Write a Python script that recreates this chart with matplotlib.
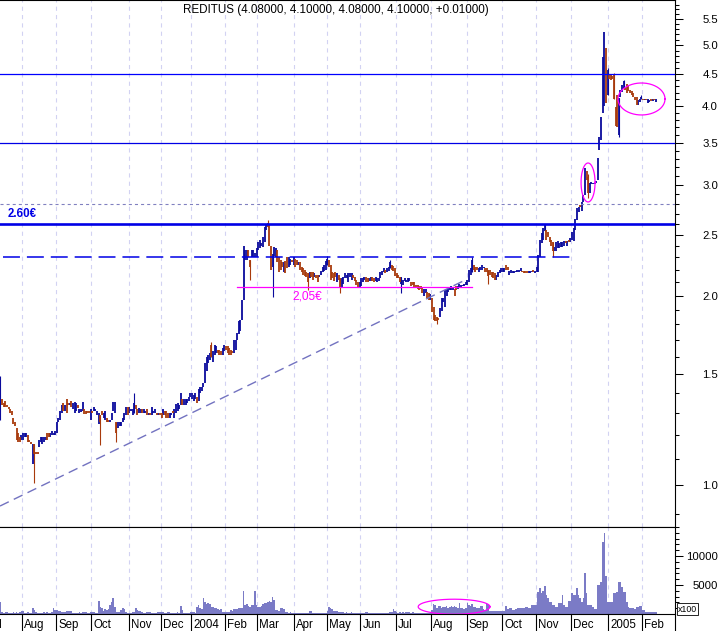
import numpy as np
import pandas as pd
import matplotlib
matplotlib.use("Agg")
import matplotlib.pyplot as plt
from matplotlib.transforms import blended_transform_factory
from matplotlib.ticker import FixedLocator, NullFormatter, FuncFormatter

plt.rcParams['font.family'] = ['Liberation Sans', 'DejaVu Sans']
plt.rcParams['lines.scale_dashes'] = False

# ---------------- data ----------------
title_text = "REDITUS (4.08000, 4.10000, 4.08000, 4.10000, +0.01000)"
start_date = '2003-07-14'
end_date = '2005-02-11'
holidays = ['2003-12-24', '2003-12-25', '2003-12-26', '2003-12-31',
            '2004-01-01', '2004-04-09', '2004-04-12']

opens = [
    # Jul 2003
    1.29, 1.37, 1.35, 1.36, 1.34, 1.33, 1.32, 1.31, 1.28, 1.26, 1.23, 1.21, 1.19, 1.18,
    # Aug 2003
    1.18, 1.19, 1.19, 1.20, 1.18, 1.17, 1.08, 1.16, 1.13, 1.13, 1.15, 1.17, 1.16, 1.17, 1.18, 1.21, 1.21, 1.19, 1.20, 1.20, 1.20,
    # Sep 2003
    1.21, 1.26, 1.27, 1.30, 1.35, 1.31, 1.37, 1.35, 1.34, 1.36, 1.32, 1.30, 1.31, 1.34, 1.30, 1.305, 1.31, 1.32, 1.31, 1.31, 1.31, 1.27,
    # Oct 2003
    1.31, 1.31, 1.31, 1.29, 1.25, 1.29, 1.31, 1.28, 1.27, 1.28, 1.27, 1.26, 1.27, 1.31, 1.30, 1.26, 1.23, 1.24, 1.24, 1.26, 1.27, 1.29, 1.33,
    # Nov 2003
    1.30, 1.31, 1.29, 1.30, 1.34, 1.32, 1.30, 1.30, 1.32, 1.30, 1.30, 1.32, 1.29, 1.30, 1.29, 1.30, 1.30, 1.30, 1.29, 1.30,
    # Dec 2003
    1.30, 1.29, 1.31, 1.31, 1.30, 1.28, 1.29, 1.31, 1.28, 1.30, 1.31, 1.32, 1.34, 1.37, 1.34, 1.34, 1.35, 1.36, 1.38,
    # Jan 2004
    1.37, 1.36, 1.37, 1.38, 1.36, 1.40, 1.41, 1.43, 1.45, 1.52, 1.56, 1.58, 1.67, 1.57, 1.61, 1.62, 1.64, 1.64, 1.63, 1.61, 1.63,
    # Feb 2004
    1.66, 1.66, 1.65, 1.64, 1.63, 1.62, 1.64, 1.70, 1.74, 1.76, 1.83, 1.97, 2.28, 2.28, 2.36, 2.28, 2.30, 2.30, 2.30, 2.30,
    # Mar 2004
    2.36, 2.38, 2.40, 2.39, 2.43, 2.54, 2.61, 2.59, 2.40, 2.22, 2.31, 2.30, 2.36, 2.30, 2.28, 2.26, 2.18, 2.27, 2.30, 2.22, 2.24, 2.28, 2.24,
    # Apr 2004
    2.29, 2.28, 2.24, 2.26, 2.22, 2.21, 2.20, 2.18, 2.17, 2.13, 2.18, 2.18, 2.14, 2.16, 2.16, 2.14, 2.16, 2.18, 2.19, 2.20,
    # May 2004
    2.24, 2.28, 2.24, 2.18, 2.17, 2.18, 2.10, 2.16, 2.13, 2.06, 2.09, 2.13, 2.13, 2.10, 2.14, 2.12, 2.16, 2.14, 2.12, 2.10, 2.06,
    # Jun 2004
    2.07, 2.10, 2.12, 2.14, 2.13, 2.11, 2.11, 2.14, 2.13, 2.11, 2.10, 2.11, 2.13, 2.16, 2.18, 2.20, 2.18, 2.19, 2.21, 2.24, 2.23, 2.21,
    # Jul 2004
    2.17, 2.16, 2.14, 2.09, 2.08, 2.11, 2.10, 2.10, 2.11, 2.10, 2.10, 2.10, 2.08, 2.08, 2.07, 2.07, 2.06, 2.00, 2.02, 2.03, 2.02, 1.97,
    # Aug 2004
    1.98, 1.92, 1.86, 1.85, 1.84, 1.85, 1.89, 1.95, 1.92, 2.00, 2.03, 2.04, 2.04, 2.04, 2.05, 2.07, 2.05, 2.06, 2.06, 2.07, 2.07, 2.08,
    # Sep 2004
    2.08, 2.10, 2.16, 2.18, 2.24, 2.22, 2.22, 2.18, 2.20, 2.20, 2.21, 2.21, 2.21, 2.20, 2.20, 2.18, 2.18, 2.17, 2.12, 2.14, 2.17, 2.18,
    # Oct 2004
    2.18, 2.18, 2.24, 2.22, 2.16, 2.17, 2.17, 2.17, 2.18, 2.18, 2.18, 2.19, 2.19, 2.19, 2.19, 2.19, 2.17, 2.17, 2.18, 2.20, 2.17,
    # Nov 2004
    2.18, 2.18, 2.30, 2.42, 2.45, 2.53, 2.54, 2.52, 2.48, 2.45, 2.43, 2.35, 2.35, 2.38, 2.38, 2.39, 2.39, 2.40, 2.44, 2.40, 2.45, 2.43,
    # Dec 2004
    2.45, 2.44, 2.54, 2.64, 2.72, 2.79, 2.73, 2.82, 2.89, 3.15, 3.09, 2.91, 3.01, 3.01, 3.01, 3.02, 3.05, 3.41, 3.53, 3.90, 4.00, 4.95, 4.17,
    # Jan 2005
    4.49, 4.49, 4.47, 4.50, 3.99, 4.17, 3.60, 4.13, 4.21, 4.28, 4.28, 4.33, 4.30, 4.24, 4.22, 4.20, 4.14, 4.14, 4.02, 4.06, 4.10,
    # Feb 2005
    4.11, 4.09, 4.10, 4.05, 4.06, 4.09, 4.08, 4.10, 4.06,
]

closes = [
    # Jul 2003
    1.37, 1.34, 1.33, 1.33, 1.33, 1.32, 1.30, 1.29, 1.25, 1.24, 1.18, 1.17, 1.17, 1.20,
    # Aug 2003
    1.21, 1.21, 1.21, 1.17, 1.17, 1.16, 1.16, 1.12, 1.12, 1.12, 1.18, 1.19, 1.19, 1.19, 1.19, 1.18, 1.19, 1.21, 1.22, 1.21, 1.22,
    # Sep 2003
    1.26, 1.28, 1.31, 1.34, 1.31, 1.34, 1.30, 1.34, 1.35, 1.33, 1.35, 1.355, 1.35, 1.325, 1.32, 1.32, 1.355, 1.295, 1.295, 1.30, 1.30, 1.32,
    # Oct 2003
    1.30, 1.33, 1.32, 1.31, 1.30, 1.26, 1.29, 1.30, 1.31, 1.26, 1.26, 1.27, 1.30, 1.355, 1.355, 1.21, 1.26, 1.26, 1.26, 1.28, 1.30, 1.33, 1.29,
    # Nov 2003
    1.33, 1.32, 1.32, 1.35, 1.32, 1.29, 1.325, 1.32, 1.30, 1.32, 1.31, 1.29, 1.30, 1.29, 1.33, 1.31, 1.32, 1.29, 1.30, 1.29,
    # Dec 2003
    1.28, 1.32, 1.29, 1.28, 1.28, 1.30, 1.30, 1.30, 1.32, 1.345, 1.35, 1.34, 1.40, 1.34, 1.37, 1.37, 1.37, 1.38, 1.40,
    # Jan 2004
    1.40, 1.39, 1.40, 1.35, 1.42, 1.43, 1.43, 1.45, 1.56, 1.60, 1.61, 1.62, 1.60, 1.63, 1.67, 1.66, 1.62, 1.61, 1.61, 1.65, 1.67,
    # Feb 2004
    1.64, 1.62, 1.61, 1.61, 1.62, 1.70, 1.70, 1.745, 1.82, 1.83, 1.97, 2.40, 2.36, 2.36, 2.30, 2.22, 2.36, 2.36, 2.34, 2.38,
    # Mar 2004
    2.43, 2.45, 2.42, 2.48, 2.57, 2.59, 2.57, 2.40, 2.20, 2.33, 2.39, 2.38, 2.26, 2.18, 2.20, 2.22, 2.26, 2.17, 2.21, 2.30, 2.29, 2.26, 2.30,
    # Apr 2004
    2.22, 2.24, 2.26, 2.20, 2.18, 2.16, 2.15, 2.14, 2.10, 2.18, 2.14, 2.12, 2.17, 2.13, 2.10, 2.16, 2.19, 2.22, 2.24, 2.27,
    # May 2004
    2.29, 2.22, 2.12, 2.13, 2.11, 2.14, 2.17, 2.12, 2.06, 2.13, 2.14, 2.17, 2.16, 2.17, 2.17, 2.17, 2.13, 2.11, 2.08, 2.06, 2.10,
    # Jun 2004
    2.13, 2.13, 2.14, 2.10, 2.10, 2.13, 2.14, 2.11, 2.10, 2.14, 2.13, 2.13, 2.18, 2.19, 2.21, 2.17, 2.21, 2.22, 2.26, 2.20, 2.19, 2.15,
    # Jul 2004
    2.13, 2.13, 2.10, 2.14, 2.12, 2.13, 2.12, 2.13, 2.13, 2.07, 2.08, 2.06, 2.06, 2.05, 2.04, 2.05, 2.02, 2.05, 2.05, 1.98, 1.97, 2.01,
    # Aug 2004
    1.88, 1.83, 1.82, 1.82, 1.83, 1.91, 1.98, 1.985, 2.04, 2.05, 2.06, 2.06, 2.07, 2.06, 2.00, 2.04, 2.07, 2.09, 2.08, 2.08, 2.09, 2.10,
    # Sep 2004
    2.12, 2.20, 2.21, 2.28, 2.20, 2.18, 2.20, 2.21, 2.22, 2.24, 2.22, 2.18, 2.18, 2.15, 2.16, 2.14, 2.13, 2.12, 2.16, 2.18, 2.20, 2.21,
    # Oct 2004
    2.21, 2.21, 2.20, 2.20, 2.19, 2.20, 2.19, 2.19, 2.19, 2.20, 2.20, 2.21, 2.18, 2.17, 2.17, 2.17, 2.19, 2.19, 2.19, 2.18, 2.19,
    # Nov 2004
    2.22, 2.32, 2.45, 2.51, 2.56, 2.59, 2.45, 2.48, 2.43, 2.40, 2.35, 2.39, 2.43, 2.44, 2.42, 2.43, 2.43, 2.44, 2.42, 2.44, 2.43, 2.47,
    # Dec 2004
    2.52, 2.56, 2.65, 2.76, 2.77, 2.77, 2.82, 2.89, 3.19, 3.05, 2.91, 3.02, 3.03, 3.02, 3.03, 3.04, 3.31, 3.57, 3.85, 4.78, 5.24, 4.05, 4.56,
    # Jan 2005
    4.42, 4.40, 4.42, 4.10, 3.72, 3.71, 4.12, 4.24, 4.32, 4.38, 4.24, 4.20, 4.22, 4.20, 4.17, 4.13, 4.09, 4.02, 4.09, 4.10, 4.14,
    # Feb 2005
    4.09, 4.10, 4.09, 4.10, 4.09, 4.08, 4.10, 4.09, 4.10,
]

# volume in units of 100 shares
volume = [
    # Jul 2003
    2100, 350, 250, 300, 300, 200, 250, 200, 300, 250, 400, 200, 300, 600,
    # Aug 2003
    500, 200, 250, 300, 200, 250, 1100, 700, 300, 250, 200, 250, 200, 300, 200, 400, 200, 250, 300, 1000, 700,
    # Sep 2003
    700, 600, 500, 400, 400, 300, 600, 500, 600, 500, 200, 250, 200, 200, 300, 200, 400, 350, 400, 200, 250, 300,
    # Oct 2003
    400, 300, 200, 250, 2300, 1200, 1000, 600, 800, 700, 900, 1550, 2000, 2800, 1200, 400, 300, 350, 700, 1000, 900, 300, 250,
    # Nov 2003
    200, 250, 300, 300, 1000, 700, 600, 500, 400, 250, 200, 400, 300, 400, 200, 150, 250, 200, 300, 400,
    # Dec 2003
    400, 300, 200, 250, 300, 300, 200, 250, 200, 200, 300, 250, 1440, 700, 250, 200, 150, 200, 300,
    # Jan 2004
    400, 300, 250, 1200, 1550, 1000, 800, 2800, 2000, 1700, 1850, 1700, 1260, 1200, 1100, 1000, 800, 700, 800, 400, 350,
    # Feb 2004
    400, 400, 350, 700, 600, 800, 800, 900, 1000, 1000, 1100, 4000, 1550, 1700, 1400, 1260, 1500, 1600, 4000, 1550,
    # Mar 2004
    1260, 1260, 1300, 1700, 1850, 1900, 2100, 2200, 2100, 3000, 2400, 700, 700, 500, 1000, 1100, 900, 400, 300, 250, 300, 230, 200,
    # Apr 2004
    200, 180, 150, 200, 150, 150, 200, 180, 150, 600, 500, 200, 150, 180, 150, 200, 150, 180, 200, 250,
    # May 2004
    600, 1260, 1000, 800, 600, 500, 600, 400, 300, 400, 300, 250, 300, 200, 250, 300, 200, 250, 200, 150, 200,
    # Jun 2004
    230, 200, 250, 400, 350, 230, 200, 250, 200, 230, 200, 250, 230, 200, 250, 200, 230, 250, 300, 400, 800, 500,
    # Jul 2004
    300, 250, 300, 250, 300, 250, 300, 350, 300, 250, 300, 250, 200, 250, 200, 230, 200, 250, 200, 230, 200, 250,
    # Aug 2004
    700, 1670, 1600, 1000, 1380, 1300, 1100, 1260, 1200, 1300, 1100, 1260, 1300, 1200, 1400, 1260, 1100, 1850, 1000, 1100, 900, 1000,
    # Sep 2004
    1850, 1500, 1380, 1700, 1260, 1200, 1000, 1000, 1380, 1300, 800, 700, 1670, 1500, 600, 600, 600, 500, 600, 600, 550, 600,
    # Oct 2004
    600, 600, 1440, 800, 1000, 1000, 700, 700, 800, 1000, 1000, 1100, 1000, 1000, 1260, 1260, 1000, 1000, 1550, 1550, 1500,
    # Nov 2004
    1550, 3850, 4420, 3560, 4000, 4830, 3280, 2700, 2100, 2100, 1550, 1550, 1260, 1260, 1850, 1850, 3280, 1550, 1260, 1260, 2300, 2300,
    # Dec 2004
    3560, 3280, 3280, 4420, 3280, 2700, 2000, 2700, 7130, 3560, 1550, 1550, 1550, 1200, 800, 800, 5000, 5000, 5570, 12500, 14000, 6550, 2100,
    # Jan 2005
    2100, 2100, 2100, 3560, 3560, 3850, 5570, 5570, 4700, 3850, 3850, 2100, 1260, 1000, 1000, 1000, 900, 1260, 1260, 1380, 1380,
    # Feb 2005
    700, 700, 400, 400, 400, 400, 400, 400, 300,
]

high_dates = ['2003-07-14', '2003-11-06', '2004-01-20', '2004-03-09', '2004-05-03', '2004-06-25',
              '2004-09-06', '2004-11-08', '2004-12-15', '2004-12-31', '2005-01-06', '2005-01-14', '2005-01-31']
high_values = [1.49, 1.40, 1.69, 2.64, 2.31, 2.28, 2.30, 2.60, 3.12, 4.60, 4.52, 4.40, 4.16]
low_dates = ['2003-07-14', '2003-08-12', '2003-10-08', '2003-10-22', '2004-02-23', '2004-03-12', '2004-04-15',
             '2004-05-13', '2004-07-06', '2004-08-05', '2004-09-20', '2004-11-15', '2004-12-15', '2005-01-11']
low_values = [1.27, 1.007, 1.158, 1.17, 2.12, 1.99, 2.04, 2.02, 2.02, 1.80, 2.09, 2.30, 2.86, 3.57]

price_ticks = [1.0, 1.5, 2.0, 2.5, 3.0, 3.5, 4.0, 4.5, 5.0, 5.5]
volume_ticks = [5000, 10000]

# drawn levels
level_resist_hi = 4.50
level_resist_mid = 3.50
level_dotted = 2.80
level_260 = 2.60
level_230 = 2.30
level_205 = 2.06
label_260 = "2.60€"
label_205 = "2,05€"

# ---------------- styling ----------------
UP = '#0a0a9c'
DOWN = '#a83a0c'
VOLC = '#7b7bc6'
GRID = '#d2d2f2'
TREND = '#7272c0'
MAG = '#ff00ff'
BLUE = '#0000e6'

W, H = 723, 631
fig = plt.figure(figsize=(W / 100, H / 100), dpi=100)


def fr(left, top, w, h):
    return [left / W, 1 - (top + h) / H, w / W, h / H]


ax = fig.add_axes(fr(0, 0, 675, 527))
axv = fig.add_axes(fr(0, 527, 675, 87))

dates = pd.bdate_range(start_date, end_date)
dates = dates[~dates.isin(pd.to_datetime(holidays))]
n = len(dates)
assert len(opens) == n and len(closes) == n and len(volume) == n, (n, len(opens), len(closes), len(volume))
xi = np.arange(n)
o = np.array(opens, float)
c = np.array(closes, float)
vol = np.array(volume, float)
up = c >= o

lo = np.minimum(o, c)
hi = np.maximum(o, c)
# keep tiny bodies visible (~1px)
hi_draw = np.maximum(hi, lo * 1.0045)

highs = hi_draw.copy()
lows = lo.copy()
date_pos = {d.strftime('%Y-%m-%d'): k for k, d in enumerate(dates)}
for d, v in zip(high_dates, high_values):
    highs[date_pos[d]] = v
for d, v in zip(low_dates, low_values):
    lows[date_pos[d]] = v

XMIN, XMAX = -0.31, 418.9
for a in (ax, axv):
    a.set_xlim(XMIN, XMAX)

# month boundaries
per = dates.to_period('M')
bounds = [(-np.busday_count('2003-07-01', start_date), 'Jul')]
for k in range(1, n):
    if per[k] != per[k - 1]:
        d = dates[k]
        bounds.append((k, str(d.year) if d.month == 1 else d.strftime('%b')))

for b, _ in bounds[1:]:
    for a in (ax, axv):
        a.axvline(b - 0.5, color=GRID, lw=0.8, ls=(0, (3, 3)), zorder=0)

# ---- candlesticks ----
wmask = (highs > hi_draw) | (lows < lo)
for m, col in ((up, UP), (~up, DOWN)):
    ww = m & wmask
    ax.vlines(xi[ww], lows[ww], highs[ww], color=col, lw=0.8, zorder=2)
    ax.vlines(xi[m], lo[m], hi_draw[m], color=col, lw=1.3, zorder=3)

ax.set_yscale('log')
ax.set_ylim(0.8576, 5.898)

# ---- lines and annotations ----
ax.axhline(level_resist_hi, color='#0000ff', lw=0.9, zorder=4)
ax.axhline(level_resist_mid, color=BLUE, lw=0.9, zorder=4)
ax.axhline(level_dotted, color='#8080c0', lw=0.8, ls=(0, (2.2, 2.2)), zorder=4)
ax.axhline(level_260, color=BLUE, lw=1.9, zorder=4)
ax.plot([1.5, 355.6], [level_230, level_230], color=BLUE, lw=1.1, ls=(0, (12.2, 5.0)), zorder=4)
ax.plot([146.7, 292.7], [level_205, level_205], color=MAG, lw=0.9, zorder=4)
ax.plot([-0.3, 287.3], [0.926, 2.109], color=TREND, lw=1.0, ls=(0, (7, 4)), zorder=4)

ax.text(4.2, 2.70, label_260, color=BLUE, fontsize=8.3, fontweight='bold', ha='left', va='center', zorder=5)
ax.text(181, 1.99, label_205, color=MAG, fontsize=8.6, ha='left', va='center', zorder=5)

t = np.linspace(0, 2 * np.pi, 200)


def log_ellipse(a, cx, cy, rx, rln):
    a.plot(cx + rx * np.cos(t), cy * np.exp(rln * np.sin(t)), color=MAG, lw=0.9, zorder=6)


log_ellipse(ax, 364.9, 3.025, 4.35, 0.0713)
log_ellipse(ax, 398.1, 4.106, 14.6, 0.0585)
axv.plot(281.7 + 22.3 * np.cos(t), 1250 + 1300 * np.sin(t), color=MAG, lw=0.9, zorder=6)

# ---- volume ----
axv.bar(xi, vol, width=1.0, color=VOLC, linewidth=0, zorder=2)
axv.set_ylim(0, 15000)

# ---- axes styling ----
for a in (ax, axv):
    a.spines['left'].set_visible(False)
    for s in ('top', 'right', 'bottom'):
        a.spines[s].set_color('black')
        a.spines[s].set_linewidth(0.8)
    a.set_xticks([])
    a.yaxis.tick_right()
    a.tick_params(axis='y', which='major', direction='out', length=5.76, width=0.75,
                  pad=25.2, labelsize=8.2, right=True, left=False, labelright=True, labelleft=False)
    a.tick_params(axis='y', which='minor', direction='out', length=2.6, width=0.75,
                  right=True, left=False)

ax.yaxis.set_major_locator(FixedLocator(price_ticks))
ax.yaxis.set_major_formatter(FuncFormatter(lambda v, p: f"{v:.1f}"))
ax.yaxis.set_minor_locator(FixedLocator([k / 10 for k in range(9, 59)]))
ax.yaxis.set_minor_formatter(NullFormatter())

axv.yaxis.set_major_locator(FixedLocator(volume_ticks))
axv.yaxis.set_major_formatter(FuncFormatter(lambda v, p: f"{int(v)}"))
axv.yaxis.set_minor_locator(FixedLocator(list(range(1000, 15001, 1000))))
axv.yaxis.set_minor_formatter(NullFormatter())

fig.canvas.draw()
for a in (ax, axv):
    for lab in a.get_yticklabels():
        lab.set_horizontalalignment('right')

# ---- month labels row ----
tr = blended_transform_factory(axv.transData, axv.transAxes)
row_bottom = -(631 - 614) / 87.0
for b, lab in bounds:
    axv.plot([b - 0.5, b - 0.5], [0, row_bottom], transform=tr, color='black', lw=0.8, clip_on=False)
    axv.text(b - 0.5 + 1.3, -0.125, lab, transform=tr, ha='left', va='center', fontsize=8.3, clip_on=False)
axv.plot([1, 1], [0, row_bottom], transform=axv.transAxes, color='black', lw=0.8, clip_on=False)

fig.text(678 / W, 1 - 609 / H, 'x100', fontsize=6.3, ha='left', va='center',
         bbox=dict(boxstyle='square,pad=0.12', fc='white', ec='black', lw=0.6))

# ---- title ----
fig.text(183 / W, 1 - 10 / H, title_text, fontsize=8.4, ha='left', va='center')

fig.savefig('out.png', dpi=100)
